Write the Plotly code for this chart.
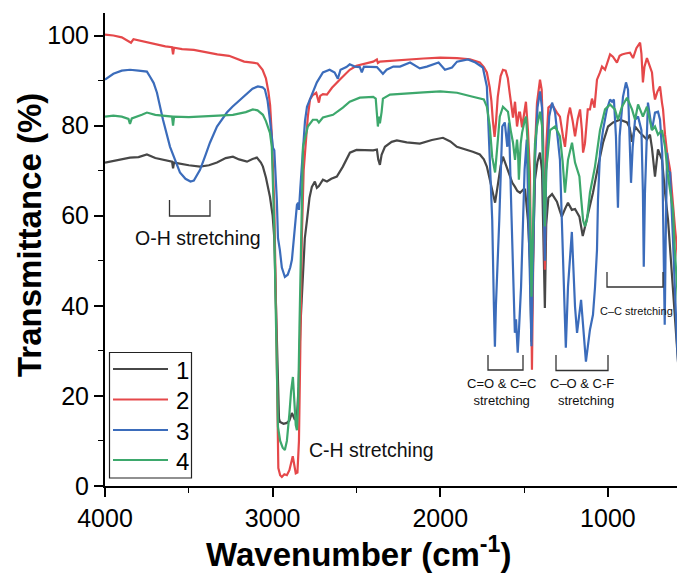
import plotly.graph_objects as go

# ---------------- data ----------------
series_names = ["1", "2", "3", "4"]
series_colors = ["#474747", "#E5484A", "#3B6CBB", "#3DA86C"]

wn_1 = [4000, 3950, 3900, 3851, 3800, 3750, 3700, 3650, 3600, 3594, 3588, 3500, 3433, 3380, 3332, 3280, 3237, 3200,
        3153, 3120, 3094, 3070, 3058, 3040, 3016, 3000, 2990, 2980, 2970, 2962, 2956, 2935, 2915, 2900, 2885, 2875,
        2867, 2855, 2845, 2835, 2820, 2808, 2795, 2780, 2766, 2748, 2736, 2724, 2700, 2676, 2650, 2617, 2581, 2539,
        2500, 2450, 2400, 2378, 2370, 2360, 2350, 2330, 2290, 2259, 2200, 2122, 2050, 1984, 1940, 1901, 1850, 1806,
        1764, 1740, 1722, 1700, 1686, 1673, 1660, 1640, 1626, 1610, 1596, 1570, 1554, 1540, 1524, 1505, 1494, 1477,
        1465, 1456, 1447, 1435, 1420, 1405, 1393, 1385, 1376, 1368, 1355, 1333, 1304, 1286, 1275, 1256, 1238, 1215,
        1196, 1170, 1160, 1150, 1140, 1107, 1089, 1059, 1029, 999, 969, 928, 886, 870, 856, 838, 808, 767, 749, 737,
        719, 701, 677, 659, 641, 620, 600, 580, 560, 540]
t_1 = [71.8, 72.2, 72.6, 72.9, 73.0, 73.6, 72.8, 72.4, 72.0, 70.5, 71.8, 71.2, 70.9, 71.2, 71.8, 72.8, 73.1, 72.5,
       72.0, 72.6, 72.9, 71.8, 70.9, 68.5, 64.2, 60.0, 55.0, 40.0, 22.0, 15.0, 14.2, 13.8, 14.0, 14.5, 16.2, 15.2,
       14.7, 15.5, 22.0, 35.0, 48.0, 55.0, 59.0, 64.0, 66.4, 67.6, 66.2, 66.6, 68.0, 67.6, 68.2, 68.7, 70.9, 74.0,
       74.6, 74.5, 74.5, 74.7, 72.5, 71.3, 73.5, 75.3, 76.4, 76.7, 76.3, 76.0, 76.8, 77.3, 76.5, 75.3, 74.8, 74.2,
       73.6, 72.5, 70.9, 67.5, 65.1, 62.9, 66.0, 71.0, 73.1, 71.5, 70.2, 67.3, 66.4, 65.5, 65.1, 65.8, 65.8, 59.0,
       50.0, 32.0, 50.0, 68.0, 72.0, 74.0, 70.0, 58.0, 39.5, 58.0, 64.0, 64.8, 63.1, 61.0, 59.8, 61.5, 62.9, 61.3,
       61.5, 59.8, 58.0, 55.5, 57.0, 62.0, 65.1, 70.9, 76.2, 79.8, 80.7, 81.3, 80.7, 79.5, 76.4, 79.8, 78.4, 76.9,
       78.0, 75.0, 68.7, 74.7, 72.4, 65.1, 59.0, 48.0, 38.0, 26.0, 16.0, 10.0]

wn_2 = [4000, 3950, 3900, 3860, 3845, 3830, 3780, 3700, 3640, 3600, 3594, 3588, 3540, 3470, 3400, 3330, 3260, 3200,
        3170, 3120, 3090, 3060, 3040, 3025, 3015, 3005, 2998, 2990, 2980, 2972, 2966, 2955, 2945, 2930, 2915, 2900,
        2890, 2880, 2870, 2862, 2852, 2843, 2835, 2826, 2815, 2800, 2790, 2777, 2760, 2740, 2730, 2724, 2716, 2700,
        2676, 2646, 2600, 2540, 2500, 2450, 2400, 2378, 2372, 2360, 2300, 2200, 2100, 2000, 1900, 1823, 1790, 1764,
        1740, 1722, 1705, 1695, 1686, 1676, 1668, 1657, 1640, 1626, 1610, 1597, 1585, 1575, 1566, 1554, 1542, 1530,
        1524, 1512, 1500, 1489, 1477, 1465, 1458, 1453, 1447, 1438, 1423, 1405, 1395, 1385, 1376, 1368, 1355, 1333,
        1304, 1286, 1268, 1256, 1238, 1226, 1210, 1196, 1180, 1166, 1155, 1148, 1137, 1120, 1107, 1095, 1080, 1065,
        1047, 1035, 1017, 999, 987, 970, 958, 946, 930, 916, 895, 868, 850, 830, 808, 800, 791, 782, 767, 752, 737,
        728, 719, 705, 689, 677, 671, 659, 647, 629, 612, 599, 588, 570, 558, 540]
t_2 = [100.2, 100.0, 99.6, 98.6, 98.4, 99.2, 98.8, 98.0, 97.6, 97.4, 95.8, 97.3, 97.0, 96.8, 96.3, 95.8, 95.5, 94.6,
       94.2, 94.0, 93.8, 92.4, 90.5, 87.5, 84.5, 78.0, 71.8, 62.0, 40.0, 15.0, 4.0, 2.4, 2.0, 2.6, 2.4, 3.5,
       5.5, 6.6, 4.5, 2.8, 3.0, 10.0, 30.0, 55.0, 70.0, 78.0, 82.0, 85.8, 86.8, 87.3, 86.2, 85.1, 86.6, 87.0,
       86.9, 88.4, 90.2, 92.4, 93.3, 93.8, 94.2, 94.7, 93.9, 94.2, 94.4, 94.7, 94.9, 95.1, 95.0, 94.7, 94.4, 94.0,
       93.0, 91.8, 88.5, 85.5, 81.0, 77.5, 80.5, 86.4, 91.0, 92.4, 92.2, 90.5, 87.0, 83.5, 81.8, 85.3, 79.8, 82.9,
       82.9, 79.6, 83.0, 85.3, 79.0, 69.6, 45.0, 25.8, 45.0, 72.0, 85.0, 90.2, 88.0, 75.0, 48.0, 75.0, 84.0, 84.7,
       82.9, 82.0, 77.6, 75.3, 82.0, 84.0, 81.0, 77.6, 81.5, 83.6, 79.0, 74.0, 76.0, 83.6, 83.6, 86.0, 84.0, 90.2,
       91.8, 93.1, 92.4, 94.5, 95.8, 95.3, 94.5, 94.0, 95.5, 95.8, 96.0, 96.2, 95.0, 97.2, 98.4, 96.0, 89.6, 93.0, 95.0, 93.5, 91.8,
       88.0, 85.8, 87.5, 88.7, 85.0, 83.6, 78.0, 74.0, 70.2, 62.0, 57.0, 53.0, 45.0, 40.0, 34.0]

wn_3 = [4000, 3950, 3900, 3851, 3800, 3750, 3732, 3710, 3690, 3654, 3612, 3580, 3553, 3520, 3490, 3470, 3433, 3400,
        3374, 3332, 3300, 3273, 3240, 3213, 3153, 3120, 3088, 3060, 3046, 3030, 3016, 3005, 2998, 2990, 2982, 2975,
        2968, 2957, 2945, 2927, 2910, 2895, 2885, 2870, 2862, 2855, 2848, 2843, 2835, 2819, 2807, 2795, 2766, 2736,
        2700, 2660, 2630, 2611, 2595, 2560, 2540, 2510, 2480, 2468, 2455, 2400, 2378, 2342, 2320, 2280, 2240, 2180,
        2122, 2080, 2010, 1972, 1930, 1900, 1835, 1790, 1746, 1722, 1705, 1690, 1680, 1674, 1668, 1656, 1648, 1630,
        1615, 1600, 1590, 1575, 1566, 1555, 1548, 1538, 1530, 1518, 1506, 1497, 1484, 1475, 1465, 1456, 1447, 1435,
        1420, 1405, 1393, 1385, 1376, 1368, 1350, 1333, 1315, 1286, 1270, 1256, 1251, 1238, 1215, 1196, 1184, 1160,
        1131, 1107, 1089, 1077, 1065, 1059, 1047, 1029, 1006, 987, 975, 964, 952, 940, 930, 910, 892, 880, 870, 862,
        852, 838, 820, 800, 791, 786, 779, 767, 761, 737, 719, 701, 689, 676, 668, 661, 655, 647, 640, 629, 612, 599,
        588, 570, 558, 540]
t_3 = [90.2, 91.5, 92.2, 92.4, 92.2, 92.0, 90.9, 89.5, 87.3, 81.3, 75.3, 72.0, 69.6, 68.2, 67.6, 67.8, 70.2, 73.5,
       76.2, 79.8, 81.5, 82.9, 84.2, 85.1, 87.3, 88.2, 88.7, 88.5, 88.0, 85.5, 81.3, 77.5, 75.1, 74.5, 69.0, 63.6,
       55.0, 52.4, 48.5, 46.4, 46.9, 48.5, 50.2, 56.0, 59.8, 62.4, 62.9, 61.3, 66.0, 75.3, 81.0, 84.2, 86.9, 89.6,
       91.8, 92.4, 91.8, 90.4, 92.4, 93.0, 93.6, 93.1, 93.0, 91.8, 93.1, 93.1, 93.0, 91.5, 92.4, 93.1, 93.1, 94.0,
       92.7, 93.1, 94.0, 92.4, 92.9, 94.2, 94.7, 94.0, 92.9, 88.7, 74.0, 59.0, 40.0, 30.9, 40.0, 50.2, 59.0, 79.8,
       80.7, 75.3, 80.7, 60.0, 45.0, 34.0, 37.0, 29.6, 35.0, 44.2, 59.0, 70.2, 76.9, 60.0, 42.0, 31.0, 48.0, 72.0,
       84.0, 87.6, 84.0, 70.0, 50.0, 70.0, 82.0, 85.1, 82.9, 72.4, 51.8, 36.0, 30.7, 44.2, 56.4, 39.8, 34.0, 41.3,
       27.6, 34.7, 38.0, 44.0, 52.4, 63.6, 74.0, 79.0, 83.6, 85.8, 85.3, 85.8, 77.6, 61.8, 77.6, 86.4, 89.6, 88.0, 78.0, 67.3,
       75.3, 81.3, 82.0, 79.0, 65.0, 48.7, 65.0, 81.3, 85.1, 79.0, 82.9, 83.1, 81.3, 74.0, 55.0, 35.8, 55.0, 74.0, 70.0, 69.6, 55.0, 42.0,
       32.0, 20.0, 14.0, 10.0]

wn_4 = [4000, 3950, 3900, 3860, 3851, 3840, 3780, 3750, 3700, 3650, 3600, 3594, 3588, 3500, 3433, 3350, 3237, 3160,
        3118, 3090, 3058, 3040, 3016, 3005, 2998, 2990, 2982, 2975, 2968, 2955, 2940, 2927, 2915, 2900, 2890, 2879,
        2870, 2862, 2855, 2848, 2840, 2830, 2819, 2790, 2760, 2736, 2724, 2700, 2640, 2581, 2540, 2480, 2400, 2385,
        2378, 2372, 2366, 2360, 2350, 2342, 2300, 2240, 2100, 2000, 1900, 1806, 1764, 1740, 1722, 1705, 1690, 1673,
        1656, 1645, 1626, 1610, 1596, 1580, 1566, 1554, 1542, 1536, 1531, 1520, 1512, 1494, 1488, 1477, 1465, 1456,
        1447, 1435, 1423, 1405, 1393, 1385, 1376, 1368, 1345, 1315, 1286, 1270, 1256, 1238, 1214, 1196, 1170, 1160,
        1148, 1137, 1125, 1107, 1077, 1047, 1017, 987, 958, 940, 916, 886, 856, 838, 820, 791, 767, 737, 719, 701,
        677, 659, 641, 612, 600, 580, 560, 540]
t_4 = [82.0, 82.2, 82.0, 81.5, 80.4, 81.6, 82.4, 82.9, 82.4, 82.2, 82.0, 80.0, 82.0, 81.9, 82.0, 82.2, 82.4, 83.0,
       83.6, 83.4, 82.4, 81.0, 78.4, 75.3, 68.0, 57.0, 40.0, 22.0, 13.1, 10.0, 8.5, 8.0, 10.0, 16.0, 21.0, 24.2,
       18.0, 13.5, 12.4, 18.0, 35.0, 57.0, 75.3, 79.8, 81.3, 81.3, 80.7, 81.8, 82.4, 84.0, 85.3, 86.2, 86.4, 86.0,
       83.0, 79.8, 82.0, 80.5, 83.0, 86.0, 86.9, 87.1, 87.4, 87.6, 87.3, 86.4, 86.0, 85.8, 84.2, 80.0, 73.0, 69.6,
       77.0, 82.0, 84.2, 83.5, 83.1, 79.0, 76.2, 72.4, 76.9, 74.0, 68.0, 76.0, 78.4, 81.5, 82.0, 75.0, 62.0, 42.0,
       60.0, 76.0, 79.8, 83.1, 80.0, 68.0, 57.6, 70.0, 79.0, 79.8, 77.6, 72.0, 65.1, 72.4, 76.2, 71.8, 68.7, 64.0,
       59.0, 57.6, 59.0, 65.1, 70.9, 79.0, 83.6, 84.7, 83.6, 81.3, 84.2, 86.2, 83.6, 81.3, 84.7, 82.0, 84.2, 79.0, 79.8, 78.0,
       79.0, 75.3, 68.7, 61.3, 52.0, 40.0, 30.0, 23.0]

wavenumbers = [wn_1, wn_2, wn_3, wn_4]
transmittance = [t_1, t_2, t_3, t_4]

x_ticks = [4000, 3000, 2000, 1000]
y_ticks = [0, 20, 40, 60, 80, 100]

x_title = "<b>Wavenumber (cm<sup>-1</sup>)</b>"
y_title = "<b>Transmittance (%)</b>"
band_labels = ["O-H stretching", "C-H stretching", "C=O & C=C<br>stretching",
               "C\u2013O & C-F<br>stretching", "C\u2013C stretching"]

# ---------------- figure ----------------
# The page body has an 8 px margin, so the figure is drawn 8 px smaller and
# everything below is expressed in page pixels.
PAGE_OFF = 8
W, H = 685 - PAGE_OFF, 577 - PAGE_OFF
PL, PR, PT, PB = 105, 685, 13, 486          # plot area in page pixels
X0, X1 = 4000, 540
Y0, Y1 = 0, 105
FONT = "Liberation Sans, Arial, sans-serif"


def xd(px):
    return X0 - (px - PL) * (X0 - X1) / (PR - PL)


def yd(py):
    return Y0 + (PB - py) * (Y1 - Y0) / (PB - PT)


def xp(px):
    return (px - PL) / (PR - PL)


def yp(py):
    return (PB - py) / (PB - PT)


fig = go.Figure()
for name, col, xs, ys in zip(series_names, series_colors, wavenumbers, transmittance):
    fig.add_trace(go.Scatter(x=xs, y=ys, mode="lines", name=name,
                             line=dict(color=col, width=2.2), showlegend=False))

shapes = []
# brackets (pixel boxes: x1, x2, ytop, ybottom)
brackets = [(169.5, 210, 200, 216), (488, 523, 355, 370), (556, 608, 355, 370.5), (607, 663, 272, 287)]
for bx1, bx2, by1, by2 in brackets:
    shapes.append(dict(type="path", xref="x", yref="y",
                       path=f"M {xd(bx1)},{yd(by1)} L {xd(bx1)},{yd(by2)} L {xd(bx2)},{yd(by2)} L {xd(bx2)},{yd(by1)}",
                       line=dict(color="#333333", width=1.3)))

# custom legend
shapes.append(dict(type="rect", xref="paper", yref="paper", x0=xp(109.5), x1=xp(191.5), y0=yp(478), y1=yp(352.5),
                   line=dict(color="#222222", width=1.2), fillcolor="white", layer="above"))
rows = [369, 399.5, 430, 460]
annotations = []
for name, col, ry in zip(series_names, series_colors, rows):
    shapes.append(dict(type="line", xref="paper", yref="paper", x0=xp(113), x1=xp(168), y0=yp(ry), y1=yp(ry),
                       line=dict(color=col, width=2.2), layer="above"))
    annotations.append(dict(text=name, xref="paper", yref="paper", x=xp(174), y=yp(ry + 1), xanchor="left",
                            yanchor="middle", showarrow=False, font=dict(family=FONT, size=24, color="black")))

annotations += [
    dict(text=band_labels[0], x=xd(133), y=yd(238), xref="x", yref="y", xanchor="left", yanchor="middle",
         showarrow=False, font=dict(family=FONT, size=19.5, color="#111111")),
    dict(text=band_labels[1], x=xd(307), y=yd(450), xref="x", yref="y", xanchor="left", yanchor="middle",
         showarrow=False, font=dict(family=FONT, size=19.5, color="#111111")),
    dict(text=band_labels[2], x=xd(501), y=yd(391.5), xref="x", yref="y", xanchor="center", yanchor="middle",
         align="center", showarrow=False, font=dict(family=FONT, size=13, color="#111111")),
    dict(text=band_labels[3], x=xd(615.5), y=yd(391.5), xref="x", yref="y", xanchor="right", yanchor="middle",
         align="right", showarrow=False, font=dict(family=FONT, size=13, color="#111111")),
    dict(text=band_labels[4], x=xd(598), y=yd(311), xref="x", yref="y", xanchor="left", yanchor="middle",
         showarrow=False, font=dict(family=FONT, size=11, color="#111111")),
    # axis titles
    dict(text=x_title, xref="paper", yref="paper", x=xp(358), y=yp(552), xanchor="center", yanchor="middle",
         showarrow=False, font=dict(family=FONT, size=33, color="black")),
    dict(text=y_title, xref="paper", yref="paper", x=xp(29), y=yp(235), xanchor="center", yanchor="middle",
         textangle=-90, showarrow=False, font=dict(family=FONT, size=33, color="black")),
]

fig.update_layout(
    width=W, height=H,
    margin=dict(l=PL - PAGE_OFF, r=0, t=PT - PAGE_OFF, b=H - (PB - PAGE_OFF), autoexpand=False),
    paper_bgcolor="white", plot_bgcolor="white",
    font=dict(family=FONT, color="black"),
    shapes=shapes, annotations=annotations,
    showlegend=False,
)
fig.update_xaxes(
    range=[X0, X1], tickvals=x_ticks, ticktext=[str(v) for v in x_ticks], automargin=False,
    showline=True, linecolor="black", linewidth=2, mirror=False,
    ticks="outside", ticklen=9, tickwidth=1.6, tickcolor="black",
    minor=dict(dtick=500, tick0=0, ticks="outside", ticklen=5, tickwidth=1.4, tickcolor="black", showgrid=False),
    showgrid=False, zeroline=False,
    tickfont=dict(family=FONT, size=25, color="black"),
)
fig.update_yaxes(
    range=[Y0, Y1], tickvals=y_ticks, automargin=False,
    showline=True, linecolor="black", linewidth=2, mirror=False,
    ticks="outside", ticklen=9, tickwidth=1.6, tickcolor="black",
    minor=dict(dtick=10, tick0=0, ticks="outside", ticklen=5, tickwidth=1.4, tickcolor="black", showgrid=False),
    showgrid=False, zeroline=False,
    tickfont=dict(family=FONT, size=25, color="black"),
)

fig.write_html("out.html")
